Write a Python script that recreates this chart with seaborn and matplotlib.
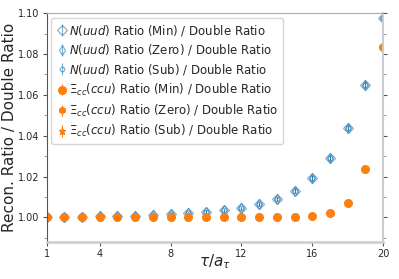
import matplotlib
matplotlib.use("Agg")
import matplotlib.pyplot as plt
import seaborn as sns

tau = list(range(1, 21))

# N(uud) ratios, three source types (almost identical)
n_min = [1.0000, 1.0002, 1.0003, 1.0005, 1.0007, 1.0009, 1.0012, 1.0015, 1.0020, 1.0027,
         1.0034, 1.0044, 1.0065, 1.0089, 1.0130, 1.0193, 1.0291, 1.0436, 1.0650, 1.0977]
n_zero = [1.0000, 1.0002, 1.0003, 1.0005, 1.0007, 1.0009, 1.0012, 1.0015, 1.0020, 1.0027,
          1.0034, 1.0044, 1.0065, 1.0089, 1.0130, 1.0193, 1.0291, 1.0436, 1.0650, 1.0977]
n_sub = [1.0000, 1.0002, 1.0003, 1.0005, 1.0007, 1.0009, 1.0012, 1.0015, 1.0020, 1.0027,
         1.0034, 1.0044, 1.0065, 1.0089, 1.0130, 1.0193, 1.0291, 1.0436, 1.0650, 1.0977]
n_err = [0.0002, 0.0002, 0.0003, 0.0003, 0.0004, 0.0004, 0.0005, 0.0005, 0.0006, 0.0007,
         0.0008, 0.0009, 0.0010, 0.0011, 0.0012, 0.0013, 0.0014, 0.0015, 0.0016, 0.0018]

# Xi_cc(ccu) ratios
xi_min = [1.0000, 1.0000, 1.0000, 1.0000, 1.0000, 1.0000, 1.0000, 1.0000, 1.0000, 1.0000,
          1.0000, 1.0000, 1.0000, 1.0000, 1.0001, 1.0005, 1.0020, 1.0068, 1.0237, 1.0832]
xi_zero = xi_min
xi_sub = xi_min
xi_err = [0.0001] * 20

labels_n = [r"$N(uud)$ Ratio (Min) / Double Ratio",
            r"$N(uud)$ Ratio (Zero) / Double Ratio",
            r"$N(uud)$ Ratio (Sub) / Double Ratio"]
labels_xi = [r"$\Xi_{cc}(ccu)$ Ratio (Min) / Double Ratio",
             r"$\Xi_{cc}(ccu)$ Ratio (Zero) / Double Ratio",
             r"$\Xi_{cc}(ccu)$ Ratio (Sub) / Double Ratio"]

sns.set_style("ticks")
blue, orange = sns.color_palette()[0], sns.color_palette()[1]

fig = plt.figure(figsize=(3.99, 2.79), dpi=100)
ax = fig.add_axes([0.117, 0.133, 0.843, 0.82])

for vals, mk, ms, lab in zip([n_min, n_zero, n_sub], ["D", "d", "8"], [5.5, 5, 3.5], labels_n):
    ax.errorbar(tau, vals, yerr=n_err, fmt=mk, ms=ms, mfc="none", mec=blue,
                ecolor=blue, color=blue, alpha=0.6, mew=0.8, elinewidth=0.8,
                label=lab)
for vals, mk, ms, lab in zip([xi_min, xi_zero, xi_sub], ["o", "h", "*"], [5.5, 4.5, 5], labels_xi):
    ax.errorbar(tau, vals, yerr=xi_err, fmt=mk, ms=ms, color=orange,
                elinewidth=0.8, label=lab)

ax.set_xlim(1, 20)
ax.set_ylim(0.988, 1.10)
ax.set_xticks([1, 4, 8, 12, 16, 20])
ax.set_yticks([1.00, 1.02, 1.04, 1.06, 1.08, 1.10])
ax.tick_params(labelsize=7, length=3, color="#555555", pad=2)
ax.tick_params(axis="y", which="both", right=True)
ax.set_yticks([0.99, 1.01, 1.03, 1.05, 1.07, 1.09], minor=True)
ax.tick_params(axis="y", which="minor", length=2, color="#888888")

for side in ["left", "right", "top", "bottom"]:
    ax.spines[side].set_color("#aaaaaa")
ax.spines["left"].set_color("#555555")
ax.spines["bottom"].set_linewidth(1.8)
ax.spines["bottom"].set_color("#cccccc")
ax.spines["right"].set_linewidth(1.5)
ax.spines["right"].set_color("#cccccc")

ax.set_xlabel(r"$\tau/a_\tau$", fontsize=11)
ax.set_ylabel("Recon. Ratio / Double Ratio", fontsize=11)
ax.xaxis.set_label_coords(0.5, -0.045)
ax.yaxis.set_label_coords(-0.088, 0.5)
ax.legend(loc="upper left", fontsize=8.5, handletextpad=0.1, handlelength=1.0,
          borderaxespad=0.4, labelspacing=0.4, borderpad=0.4)

fig.savefig("out.png", dpi=100)
